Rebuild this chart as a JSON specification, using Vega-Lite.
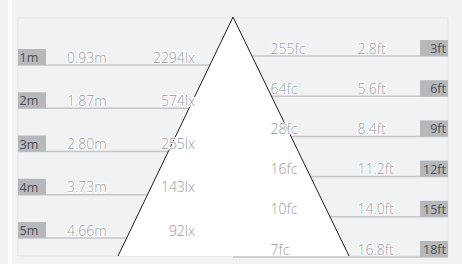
{
  "$schema": "https://vega.github.io/schema/vega-lite/v6.json",
  "width": 462,
  "height": 264,
  "autosize": {"type": "fit", "contains": "padding"},
  "padding": 0,
  "background": "#f1f2f4",
  "config": {"view": {"stroke": null}, "axis": {"disable": true}, "text": {"font": "Open Sans"}},
  "datasets": {
    "metric": [
      {"dist_m": 1, "label": "1m", "diameter": "0.93m", "illuminance": "2294lx"},
      {"dist_m": 2, "label": "2m", "diameter": "1.87m", "illuminance": "574lx"},
      {"dist_m": 3, "label": "3m", "diameter": "2.80m", "illuminance": "255lx"},
      {"dist_m": 4, "label": "4m", "diameter": "3.73m", "illuminance": "143lx"},
      {"dist_m": 5, "label": "5m", "diameter": "4.66m", "illuminance": "92lx"}
    ],
    "imperial": [
      {"dist_ft": 3, "label": "3ft", "diameter": "2.8ft", "illuminance": "255fc"},
      {"dist_ft": 6, "label": "6ft", "diameter": "5.6ft", "illuminance": "64fc"},
      {"dist_ft": 9, "label": "9ft", "diameter": "8.4ft", "illuminance": "28fc"},
      {"dist_ft": 12, "label": "12ft", "diameter": "11.2ft", "illuminance": "16fc"},
      {"dist_ft": 15, "label": "15ft", "diameter": "14.0ft", "illuminance": "10fc"},
      {"dist_ft": 18, "label": "18ft", "diameter": "16.8ft", "illuminance": "7fc"}
    ],
    "stripe": [{"x": 8, "x2": 12, "y": 0, "y2": 264}],
    "frame": [{"x": 18, "x2": 448, "y": 18, "y2": 256}],
    "cone": [{"y": 17, "left": 233, "right": 233}, {"y": 256, "left": 118, "right": 349}],
    "edges": [{"x": 233, "y": 17, "x2": 118, "y2": 256}, {"x": 233, "y": 17, "x2": 349, "y2": 256}]
  },
  "resolve": {"scale": {"x": "independent", "y": "independent"}},
  "layer": [
    {
      "data": {"name": "stripe"},
      "mark": {"type": "rect", "fill": "#fbfbfc"},
      "encoding": {
        "x": {"field": "x", "type": "quantitative", "scale": {"domain": [0, 462], "nice": false, "zero": false}},
        "x2": {"field": "x2"},
        "y": {"field": "y", "type": "quantitative", "scale": {"domain": [0, 264], "reverse": true, "nice": false, "zero": false}},
        "y2": {"field": "y2"}
      }
    },
    {
      "data": {"name": "frame"},
      "mark": {"type": "rect", "fill": "#f1f2f4", "stroke": "#e4e5e8", "strokeWidth": 1},
      "encoding": {
        "x": {"field": "x", "type": "quantitative", "scale": {"domain": [0, 462], "nice": false, "zero": false}},
        "x2": {"field": "x2"},
        "y": {"field": "y", "type": "quantitative", "scale": {"domain": [0, 264], "reverse": true, "nice": false, "zero": false}},
        "y2": {"field": "y2"}
      }
    },
    {
      "data": {"name": "metric"},
      "mark": {"type": "rule", "color": "#c4c6c9", "strokeWidth": 1.5},
      "encoding": {
        "x": {"datum": 18, "type": "quantitative", "scale": {"domain": [0, 462], "nice": false, "zero": false}},
        "x2": {"datum": 233},
        "y": {"field": "dist_m", "type": "quantitative", "scale": {"domain": [-0.503, 5.601], "reverse": true, "nice": false, "zero": false}}
      }
    },
    {
      "data": {"name": "imperial"},
      "mark": {"type": "rule", "color": "#c4c6c9", "strokeWidth": 1.5},
      "encoding": {
        "x": {"datum": 233, "type": "quantitative", "scale": {"domain": [0, 462], "nice": false, "zero": false}},
        "x2": {"datum": 448},
        "y": {"field": "dist_ft", "type": "quantitative", "scale": {"domain": [-1.179, 18.522], "reverse": true, "nice": false, "zero": false}}
      }
    },
    {
      "data": {"name": "cone"},
      "mark": {"type": "area", "orient": "horizontal", "fill": "#ffffff"},
      "encoding": {
        "y": {"field": "y", "type": "quantitative", "scale": {"domain": [0, 264], "reverse": true, "nice": false, "zero": false}},
        "x": {"field": "left", "type": "quantitative", "scale": {"domain": [0, 462], "nice": false, "zero": false}},
        "x2": {"field": "right"}
      }
    },
    {
      "data": {"name": "edges"},
      "mark": {"type": "rule", "color": "#1e1e1e", "strokeWidth": 1},
      "encoding": {
        "x": {"field": "x", "type": "quantitative", "scale": {"domain": [0, 462], "nice": false, "zero": false}},
        "x2": {"field": "x2"},
        "y": {"field": "y", "type": "quantitative", "scale": {"domain": [0, 264], "reverse": true, "nice": false, "zero": false}},
        "y2": {"field": "y2"}
      }
    },
    {
      "data": {"name": "metric"},
      "mark": {"type": "rule", "color": "#b6b8bb", "strokeWidth": 16, "yOffset": -8},
      "encoding": {
        "x": {"datum": 18, "type": "quantitative", "scale": {"domain": [0, 462], "nice": false, "zero": false}},
        "x2": {"datum": 46},
        "y": {"field": "dist_m", "type": "quantitative", "scale": {"domain": [-0.503, 5.601], "reverse": true, "nice": false, "zero": false}}
      }
    },
    {
      "data": {"name": "imperial"},
      "mark": {"type": "rule", "color": "#b6b8bb", "strokeWidth": 16, "yOffset": -8},
      "encoding": {
        "x": {"datum": 420, "type": "quantitative", "scale": {"domain": [0, 462], "nice": false, "zero": false}},
        "x2": {"datum": 448},
        "y": {"field": "dist_ft", "type": "quantitative", "scale": {"domain": [-1.179, 18.522], "reverse": true, "nice": false, "zero": false}}
      }
    },
    {
      "data": {"name": "metric"},
      "mark": {"type": "text", "align": "left", "baseline": "alphabetic", "dy": -3, "fontSize": 12.5, "fontWeight": 400, "color": "#4e5054"},
      "encoding": {
        "x": {"datum": 19.5, "type": "quantitative", "scale": {"domain": [0, 462], "nice": false, "zero": false}},
        "y": {"field": "dist_m", "type": "quantitative", "scale": {"domain": [-0.503, 5.601], "reverse": true, "nice": false, "zero": false}},
        "text": {"field": "label"}
      }
    },
    {
      "data": {"name": "metric"},
      "mark": {"type": "text", "align": "left", "baseline": "alphabetic", "dy": -2.5, "fontSize": 14, "fontWeight": 300, "color": "#ffffff", "stroke": "#ffffff", "strokeWidth": 2, "strokeJoin": "round"},
      "encoding": {
        "x": {"datum": 67, "type": "quantitative", "scale": {"domain": [0, 462], "nice": false, "zero": false}},
        "y": {"field": "dist_m", "type": "quantitative", "scale": {"domain": [-0.503, 5.601], "reverse": true, "nice": false, "zero": false}},
        "text": {"field": "diameter"}
      }
    },
    {
      "data": {"name": "metric"},
      "mark": {"type": "text", "align": "right", "baseline": "alphabetic", "dy": -2.5, "fontSize": 14, "fontWeight": 300, "color": "#ffffff", "stroke": "#ffffff", "strokeWidth": 2, "strokeJoin": "round"},
      "encoding": {
        "x": {"datum": 195, "type": "quantitative", "scale": {"domain": [0, 462], "nice": false, "zero": false}},
        "y": {"field": "dist_m", "type": "quantitative", "scale": {"domain": [-0.503, 5.601], "reverse": true, "nice": false, "zero": false}},
        "text": {"field": "illuminance"}
      }
    },
    {
      "data": {"name": "metric"},
      "mark": {"type": "text", "align": "left", "baseline": "alphabetic", "dy": -2.5, "fontSize": 14, "fontWeight": 300, "color": "#96989b"},
      "encoding": {
        "x": {"datum": 67, "type": "quantitative", "scale": {"domain": [0, 462], "nice": false, "zero": false}},
        "y": {"field": "dist_m", "type": "quantitative", "scale": {"domain": [-0.503, 5.601], "reverse": true, "nice": false, "zero": false}},
        "text": {"field": "diameter"}
      }
    },
    {
      "data": {"name": "metric"},
      "mark": {"type": "text", "align": "right", "baseline": "alphabetic", "dy": -2.5, "fontSize": 14, "fontWeight": 300, "color": "#96989b"},
      "encoding": {
        "x": {"datum": 195, "type": "quantitative", "scale": {"domain": [0, 462], "nice": false, "zero": false}},
        "y": {"field": "dist_m", "type": "quantitative", "scale": {"domain": [-0.503, 5.601], "reverse": true, "nice": false, "zero": false}},
        "text": {"field": "illuminance"}
      }
    },
    {
      "data": {"name": "imperial"},
      "mark": {"type": "text", "align": "right", "baseline": "alphabetic", "dy": -3, "fontSize": 12.5, "fontWeight": 400, "color": "#4e5054"},
      "encoding": {
        "x": {"datum": 446, "type": "quantitative", "scale": {"domain": [0, 462], "nice": false, "zero": false}},
        "y": {"field": "dist_ft", "type": "quantitative", "scale": {"domain": [-1.179, 18.522], "reverse": true, "nice": false, "zero": false}},
        "text": {"field": "label"}
      }
    },
    {
      "data": {"name": "imperial"},
      "mark": {"type": "text", "align": "left", "baseline": "alphabetic", "dy": -2.5, "fontSize": 14, "fontWeight": 300, "color": "#ffffff", "stroke": "#ffffff", "strokeWidth": 2, "strokeJoin": "round"},
      "encoding": {
        "x": {"datum": 270.5, "type": "quantitative", "scale": {"domain": [0, 462], "nice": false, "zero": false}},
        "y": {"field": "dist_ft", "type": "quantitative", "scale": {"domain": [-1.179, 18.522], "reverse": true, "nice": false, "zero": false}},
        "text": {"field": "illuminance"}
      }
    },
    {
      "data": {"name": "imperial"},
      "mark": {"type": "text", "align": "left", "baseline": "alphabetic", "dy": -2.5, "fontSize": 14, "fontWeight": 300, "color": "#ffffff", "stroke": "#ffffff", "strokeWidth": 2, "strokeJoin": "round"},
      "encoding": {
        "x": {"datum": 357.5, "type": "quantitative", "scale": {"domain": [0, 462], "nice": false, "zero": false}},
        "y": {"field": "dist_ft", "type": "quantitative", "scale": {"domain": [-1.179, 18.522], "reverse": true, "nice": false, "zero": false}},
        "text": {"field": "diameter"}
      }
    },
    {
      "data": {"name": "imperial"},
      "mark": {"type": "text", "align": "left", "baseline": "alphabetic", "dy": -2.5, "fontSize": 14, "fontWeight": 300, "color": "#96989b"},
      "encoding": {
        "x": {"datum": 270.5, "type": "quantitative", "scale": {"domain": [0, 462], "nice": false, "zero": false}},
        "y": {"field": "dist_ft", "type": "quantitative", "scale": {"domain": [-1.179, 18.522], "reverse": true, "nice": false, "zero": false}},
        "text": {"field": "illuminance"}
      }
    },
    {
      "data": {"name": "imperial"},
      "mark": {"type": "text", "align": "left", "baseline": "alphabetic", "dy": -2.5, "fontSize": 14, "fontWeight": 300, "color": "#96989b"},
      "encoding": {
        "x": {"datum": 357.5, "type": "quantitative", "scale": {"domain": [0, 462], "nice": false, "zero": false}},
        "y": {"field": "dist_ft", "type": "quantitative", "scale": {"domain": [-1.179, 18.522], "reverse": true, "nice": false, "zero": false}},
        "text": {"field": "diameter"}
      }
    }
  ]
}
